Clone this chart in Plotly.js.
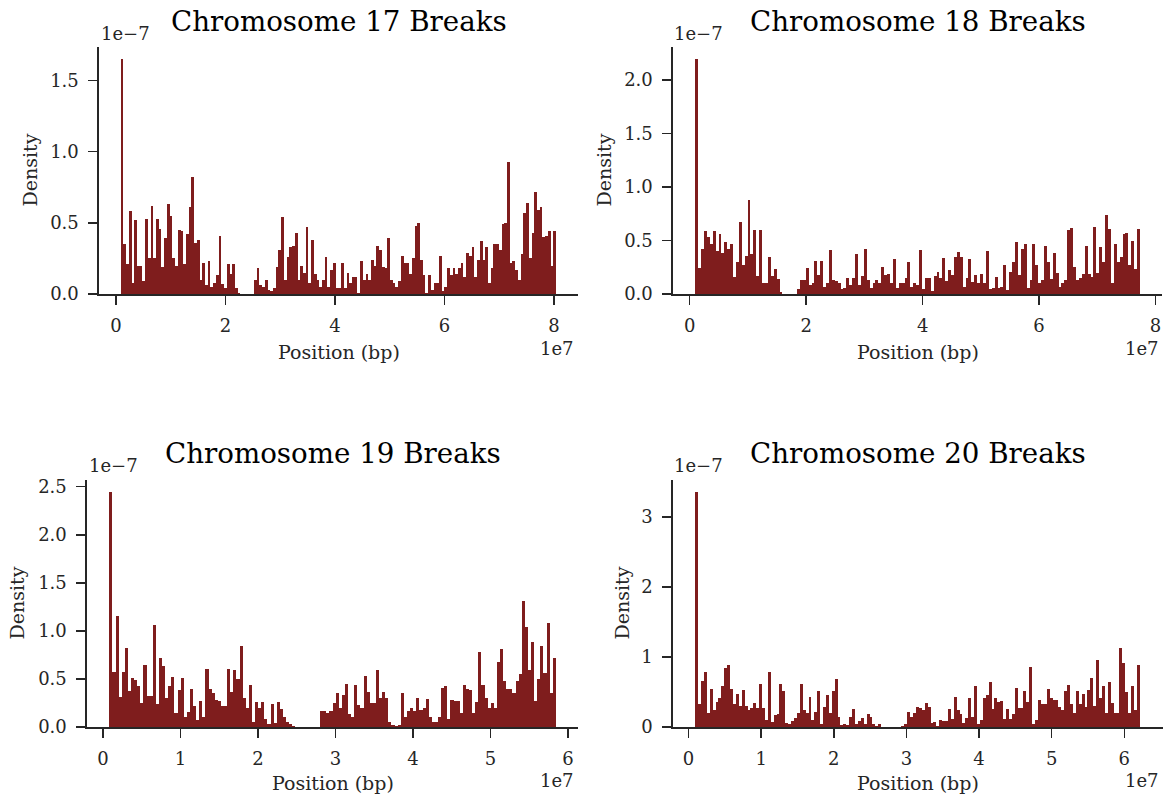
<!DOCTYPE html>
<html>
<head>
<meta charset="utf-8">
<script src="https://cdn.plot.ly/plotly-3.0.1.min.js"></script>
<style>html,body{margin:0;padding:0;background:#fff;}#chart{width:1173px;height:800px;}</style>
</head>
<body>
<div id="chart"></div>
<script>
// ---- Data (density in units of 1e-7, position in units of 1e7 bp) ----
const chromosomes = ["17", "18", "19", "20"];

const chr17Start = 0.086;   // first bin left edge (x 1e7 bp)
const chr17BinWidth = 0.0497;
const chr17Density = [
  1.65,0.35,0.21,0.58,0.08,0.52,0.20,0.20,0.09,0.53,
  0.25,0.62,0.25,0.53,0.46,0.19,0.39,0.63,0.55,0.25,
  0.20,0.45,0.44,0.21,0.42,0.61,0.82,0.36,0.38,0.10,
  0.22,0.06,0.23,0.05,0.08,0.13,0.41,0.07,0.04,0.21,
  0.14,0.21,0.04,0.01,0,0,0,0,0,0.10,
  0.18,0.06,0.05,0.10,0.03,0.02,0.04,0.19,0.31,0.54,
  0.10,0.26,0.33,0.34,0.43,0.10,0.20,0.15,0.47,0.08,
  0.38,0.14,0.10,0.05,0.10,0.26,0.05,0.17,0.22,0.04,
  0.04,0.22,0.04,0.15,0.08,0.12,0.12,0.01,0.23,0.10,
  0.14,0.10,0.24,0.20,0.34,0.31,0.19,0.18,0.39,0.10,
  0.08,0.05,0.09,0.27,0.22,0.22,0.14,0.25,0.48,0.50,
  0.24,0.13,0.01,0.13,0.03,0.08,0.08,0.27,0.02,0.05,
  0.18,0.13,0.18,0.14,0.18,0.22,0.12,0.29,0.27,0.33,
  0.12,0.24,0.37,0.24,0.33,0.08,0.18,0.35,0.35,0.31,
  0.49,0.50,0.93,0.22,0.23,0.17,0.10,0.28,0.57,0.64,
  0.25,0.43,0.72,0.59,0.61,0.40,0.41,0.44,0.20,0.44
];

const chr18Start = 0.097;
const chr18BinWidth = 0.0499;
const chr18Density = [
  2.20,0.24,0.42,0.59,0.53,0.47,0.59,0.40,0.56,0.38,
  0.49,0.42,0.47,0.16,0.30,0.67,0.27,0.36,0.88,0.37,
  0.60,0.17,0.60,0.10,0.10,0.35,0.17,0.23,0.14,0.02,
  0,0,0,0,0,0.05,0.13,0.13,0.24,0.08,
  0.10,0.31,0.18,0.31,0.07,0.10,0.41,0.13,0.12,0.10,
  0.05,0.06,0.15,0.08,0.15,0.37,0.08,0.17,0.42,0.13,
  0.06,0.10,0.13,0.10,0.25,0.18,0.19,0.10,0.33,0.06,
  0.10,0.10,0.15,0.30,0.07,0.10,0.08,0.41,0.05,0.15,
  0.15,0.03,0.17,0.21,0.15,0.34,0.12,0.22,0.18,0.35,
  0.39,0.35,0.07,0.15,0.33,0.11,0.18,0.10,0.19,0.10,
  0.40,0.05,0.06,0.16,0.06,0.07,0.27,0.04,0.21,0.30,
  0.49,0.18,0.42,0.47,0.06,0.13,0.47,0.27,0.10,0.13,
  0.45,0.30,0.14,0.38,0.20,0.07,0.10,0.13,0.60,0.62,
  0.25,0.13,0.15,0.19,0.45,0.19,0.16,0.63,0.20,0.44,
  0.30,0.74,0.61,0.10,0.47,0.30,0.35,0.56,0.57,0.27,
  0.50,0.23,0.61
];

const chr19Start = 0.082;
const chr19BinWidth = 0.04;
const chr19Density = [
  2.45,0.57,1.16,0.31,0.57,0.82,0.37,0.51,0.49,0.43,
  0.25,0.64,0.32,0.32,1.06,0.24,0.72,0.63,0.30,0.43,
  0.52,0.15,0.38,0.51,0.10,0.16,0.40,0.22,0.07,0.27,
  0.10,0.60,0.40,0.35,0.28,0.27,0.22,0.22,0.60,0.36,
  0.59,0.50,0.84,0.30,0.20,0.44,0.05,0.26,0.20,0.26,
  0.08,0.03,0.24,0.04,0.26,0.19,0.10,0.05,0.03,0.01,
  0,0,0,0,0,0,0,0,0.17,0.17,
  0.15,0.17,0.25,0.35,0.20,0.33,0.45,0.14,0.10,0.44,
  0.23,0.20,0.53,0.36,0.25,0.25,0.59,0.30,0.36,0.30,
  0.05,0.02,0.01,0.02,0.35,0.10,0.17,0.20,0.17,0.30,
  0.18,0.20,0.29,0.10,0.05,0.05,0.10,0.41,0.43,0.08,
  0.28,0.27,0.27,0.15,0.44,0.40,0.38,0.15,0.26,0.78,
  0.44,0.30,0.20,0.25,0.20,0.68,0.81,0.48,0.40,0.40,
  0.35,0.48,0.55,1.31,1.04,0.59,0.88,0.27,0.50,0.84,
  0.56,1.08,0.35,0.72
];

const chr20Start = 0.092;
const chr20BinWidth = 0.04;
const chr20Density = [
  3.36,0.33,0.66,0.79,0.20,0.54,0.25,0.36,0.41,0.58,
  0.85,0.88,0.55,0.33,0.47,0.30,0.53,0.30,0.25,0.27,
  0.35,0.27,0.61,0.27,0.10,0.78,0.07,0.17,0.18,0.61,
  0.52,0.06,0.04,0.08,0.13,0.20,0.62,0.25,0.20,0.43,
  0.10,0.22,0.52,0.05,0.28,0.46,0.20,0.51,0.69,0.15,
  0.03,0.04,0.03,0.14,0.26,0.05,0.08,0.13,0.04,0.19,
  0.15,0.04,0.01,0.04,0,0,0,0,0,0,
  0,0.02,0.04,0.22,0.15,0.20,0.29,0.27,0.24,0.35,
  0.28,0.06,0.07,0.02,0.10,0.08,0.09,0.26,0.12,0.43,
  0.25,0.18,0.06,0.13,0.42,0.15,0.59,0.05,0.10,0.42,
  0.46,0.65,0.26,0.41,0.36,0.37,0.12,0.26,0.12,0.18,
  0.56,0.27,0.27,0.52,0.36,0.86,0.05,0.10,0.38,0.33,
  0.33,0.54,0.42,0.38,0.38,0.29,0.25,0.51,0.60,0.33,
  0.20,0.52,0.33,0.47,0.28,0.53,0.70,0.30,0.96,0.42,
  0.59,0.20,0.65,0.35,0.20,0.20,1.13,0.91,0.50,0.20,
  0.59,0.25,0.88
];

// tick settings (values)
const xTickStep = [2, 2, 1, 1];
const yTickStep = [0.5, 0.5, 0.5, 1];
const yTickFormat = [".1f", ".1f", ".1f", ".0f"];
const xRanges = [[-0.31, 8.44], [-0.285, 8.11], [-0.206, 6.128], [-0.214, 6.526]];
const yRanges = [[0, 1.735], [0, 2.31], [0, 2.57], [0, 3.53]];

// ---- Figure ----
const W = 1173, H = 800;
const BAR = "#7f1d1d";
const INK = "#262626";
const FONT = "DejaVu Serif, serif";
const px = v => v / W;
const py = v => 1 - v / H;

const starts = [chr17Start, chr18Start, chr19Start, chr20Start];
const widths = [chr17BinWidth, chr18BinWidth, chr19BinWidth, chr20BinWidth];
const dens = [chr17Density, chr18Density, chr19Density, chr20Density];

// panel boxes in pixels: [left, right, top, bottom]
const boxes = [[99, 578, 47, 294], [673, 1162, 47, 294], [87, 578, 480, 727], [673, 1162.5, 480, 727]];

const traces = dens.map((d, i) => ({
  type: "bar",
  y: d,
  x0: starts[i] + widths[i] / 2,
  dx: widths[i],
  width: widths[i],
  marker: {color: BAR, line: {width: 0}},
  xaxis: i === 0 ? "x" : "x" + (i + 1),
  yaxis: i === 0 ? "y" : "y" + (i + 1),
  hoverinfo: "skip"
}));

const layout = {
  width: W, height: H,
  margin: {l: 0, r: 0, t: 0, b: 0},
  paper_bgcolor: "#fff", plot_bgcolor: "#fff",
  showlegend: false, bargap: 0,
  font: {family: FONT, color: INK},
  annotations: []
};

function axisBase() {
  return {
    showline: true, linecolor: INK, linewidth: 1.6,
    ticks: "outside", ticklen: 9, tickwidth: 1.5, tickcolor: INK,
    showgrid: false, zeroline: false,
    tickfont: {family: FONT, size: 18, color: INK},
    fixedrange: true
  };
}

boxes.forEach((b, i) => {
  const sx = i === 0 ? "" : String(i + 1);
  const xa = Object.assign(axisBase(), {
    domain: [px(b[0]), px(b[1])], range: xRanges[i],
    anchor: "y" + sx, tick0: 0, dtick: xTickStep[i], tickformat: "d",
    ticklabelstandoff: 6
  });
  const ya = Object.assign(axisBase(), {
    domain: [py(b[3]), py(b[2])], range: yRanges[i],
    anchor: "x" + sx, tick0: 0, dtick: yTickStep[i], tickformat: yTickFormat[i],
    ticklabelstandoff: 6
  });
  layout["xaxis" + sx] = xa;
  layout["yaxis" + sx] = ya;
});

function ann(text, x, y, size, xanchor, yanchor, angle) {
  layout.annotations.push({
    text: text, xref: "paper", yref: "paper", x: px(x), y: py(y),
    xanchor: xanchor, yanchor: yanchor, showarrow: false,
    textangle: angle || 0, borderpad: 0,
    font: {family: FONT, size: size, color: angle === undefined && size > 20 ? "#000" : INK}
  });
}

const titleX = [338.5, 917.5, 332.5, 917.5];
const titleY = [21.7, 21.7, 453, 453];
const densX = [29, 603, 16, 621];
const posY = [351.7, 351.7, 783, 783];
const offY = [33.3, 33.3, 465, 465];
const offL = [100, 673, 88, 673];
const e7Y = [348, 348, 780.7, 780.7];
const e7R = [575, 1160, 575, 1160];

chromosomes.forEach((c, i) => {
  ann("Chromosome " + c + " Breaks", titleX[i], titleY[i], 27.7, "center", "middle");
  ann("Density", densX[i], (boxes[i][2] + boxes[i][3]) / 2, 19, "center", "middle", -90);
  ann("Position (bp)", titleX[i], posY[i], 19, "center", "middle");
  ann("1e\u22127", offL[i], offY[i], 18, "left", "middle");
  ann("1e7", e7R[i], e7Y[i], 18, "right", "middle");
});

Plotly.newPlot("chart", traces, layout, {staticPlot: true, displayModeBar: false});
</script>
</body>
</html>
